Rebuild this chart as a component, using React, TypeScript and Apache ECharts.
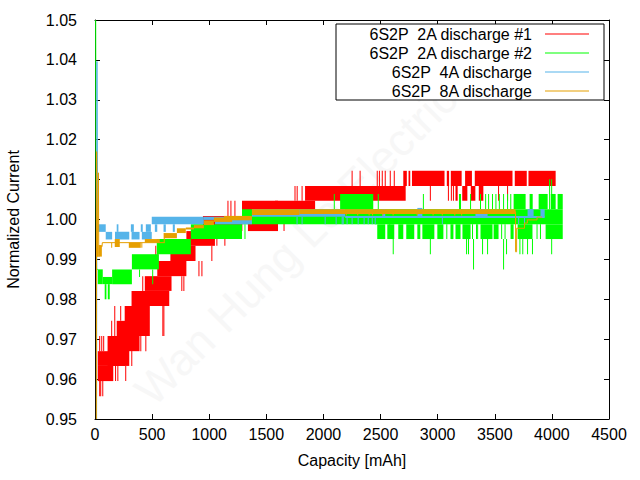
import React, { useEffect, useRef } from 'react';
import * as echarts from 'echarts';

const seriesNames = [
  '6S2P  2A discharge #1',
  '6S2P  2A discharge #2',
  '6S2P  4A discharge',
  '6S2P  8A discharge',
];
const seriesColors = ['#ff0000', '#00ff00', '#56b4e9', '#e69f00'];

const xMin = 0;
const xMax = 4500;
const xStep = 500;
const yMin = 0.95;
const yMax = 1.05;
const yStep = 0.01;

// the sampled current toggles between two quantised levels, so each trace is
// kept as blocks [x0, x1, low, high] plus single spikes [x, low, high]
const redBands = [
  [24, 262, 0.9633, 0.967],
  [24, 160, 0.9595, 0.9633],
  [110, 300, 0.9633, 0.9708],
  [190, 390, 0.967, 0.9746],
  [260, 480, 0.9708, 0.9783],
  [320, 650, 0.9783, 0.9821],
  [436, 670, 0.9821, 0.9858],
  [550, 800, 0.9858, 0.9896],
  [660, 880, 0.9896, 0.9934],
  [800, 1050, 0.9934, 0.9971],
  [945, 1290, 0.9971, 1.0009],
  [1287, 1602, 1.0009, 1.0047],
  [1339, 1602, 0.9971, 1.0009],
  [1576, 1927, 1.0009, 1.0047],
  [1839, 2720, 1.0047, 1.0084],
  [3156, 3175, 1.0047, 1.0084],
  [3215, 3260, 1.0047, 1.0084],
  [3290, 3330, 1.0047, 1.0084],
  [3360, 3400, 1.0047, 1.0084],
  [2699, 2730, 1.0084, 1.0122],
  [2745, 2760, 1.0084, 1.0122],
  [2775, 3060, 1.0084, 1.0122],
  [3080, 3100, 1.0084, 1.0122],
  [3115, 3210, 1.0084, 1.0122],
  [3240, 3300, 1.0084, 1.0122],
  [3325, 3655, 1.0084, 1.0122],
  [3675, 3780, 1.0084, 1.0122],
  [3795, 4033, 1.0084, 1.0122],
];
const redSpikes = [
  [41, 0.9557, 0.9595], [50, 0.9557, 0.9595], [68, 0.9557, 0.9595],
  [41, 0.967, 0.9708], [59, 0.967, 0.9708], [76, 0.967, 0.9708],
  [146, 0.9708, 0.9746], [173, 0.9708, 0.9783], [225, 0.9746, 0.9783],
  [180, 0.9595, 0.9633], [200, 0.9595, 0.9633], [269, 0.9595, 0.9633],
  [322, 0.9633, 0.9708], [401, 0.967, 0.9708], [445, 0.967, 0.9708],
  [594, 0.9708, 0.9783], [603, 0.9708, 0.9783],
  [418, 0.9821, 0.9858], [532, 0.9896, 0.9934], [550, 0.9858, 0.9934],
  [760, 0.9821, 0.9858], [778, 0.9821, 0.9858],
  [910, 0.9858, 0.9896], [936, 0.9858, 0.9896],
  [1023, 0.9896, 0.9934], [1067, 0.9934, 0.9971], [1137, 0.9934, 0.9971],
  [1164, 1.0009, 1.0047], [1190, 1.0009, 1.0047], [1225, 1.0009, 1.0047],
  [1655, 0.9971, 1.0009],
  [1751, 1.0047, 1.0084], [1770, 1.0047, 1.0084], [1813, 1.0047, 1.0084],
  [2251, 1.0084, 1.0122], [2321, 1.0084, 1.0122], [2471, 1.0084, 1.0122],
  [2490, 1.0084, 1.0122], [2515, 1.0084, 1.0122], [2541, 1.0084, 1.0122],
  [2585, 1.0084, 1.0122], [2620, 1.0084, 1.0122],
  [2936, 1.0047, 1.0084], [3094, 1.0047, 1.0084], [3120, 1.0047, 1.0084],
  [3138, 1.0047, 1.0084], [3533, 1.0047, 1.0084], [3612, 1.0047, 1.0084],
];

const greenLine = [
  [6, 1.05], [8, 1.0174], [14, 0.9875], [24, 0.9875],
];
const greenBands = [
  [24, 68, 0.9838, 0.9875],
  [68, 150, 0.9838, 0.9856],
  [150, 323, 0.9838, 0.9875],
  [85, 100, 0.98, 0.9838],
  [112, 129, 0.98, 0.9838],
  [323, 559, 0.9875, 0.9913],
  [541, 839, 0.9913, 0.9951],
  [839, 1287, 0.9951, 0.9988],
  [1287, 2470, 0.9988, 1.0026],
  [2146, 2436, 1.0026, 1.0064],
  [2453, 4095, 0.9988, 1.0026],
  [2471, 2541, 0.9951, 0.9988], [2559, 2620, 0.9951, 0.9988],
  [2655, 2699, 0.9951, 0.9988], [2725, 2795, 0.9951, 0.9988],
  [2822, 2848, 0.9951, 0.9988], [2866, 2971, 0.9951, 0.9988],
  [2997, 3050, 0.9951, 0.9988], [3112, 3138, 0.9951, 0.9988],
  [3156, 3200, 0.9951, 0.9988], [3217, 3288, 0.9951, 0.9988],
  [3375, 3480, 0.9951, 0.9988], [3490, 3533, 0.9951, 0.9988],
  [3638, 3665, 0.9951, 0.9988], [3700, 3830, 0.9951, 0.9988],
  [3945, 4095, 0.9951, 0.9988],
  [3665, 3770, 1.0026, 1.0064], [3805, 3832, 1.0026, 1.0064],
  [3884, 3963, 1.0026, 1.0064], [3990, 4033, 1.0026, 1.0064],
  [4050, 4095, 1.0026, 1.0064],
];
const greenSpikes = [
  [1313, 0.9951, 0.9988], [390, 0.9856, 0.9875], [505, 0.9838, 0.9875],
  [2611, 0.9913, 0.9951], [2936, 0.9913, 0.9951], [3253, 0.9913, 0.9951],
  [3270, 0.9913, 0.9951], [3314, 0.9875, 0.9951], [3393, 0.9913, 0.9951],
  [3437, 0.9913, 0.9951], [3577, 0.9875, 0.9951], [3603, 0.9913, 0.9951],
  [3720, 0.9913, 0.9951], [3745, 0.9913, 0.9951], [3787, 0.9913, 0.9951],
  [3830, 0.9913, 0.9951], [3998, 0.9913, 0.9951],
  [2580, 0.9951, 0.9988], [3080, 0.9951, 0.9988], [3305, 0.9951, 0.9988],
  [3340, 0.9951, 0.9988], [3350, 0.9951, 0.9988], [3560, 0.9951, 0.9988],
  [3590, 0.9951, 0.9988], [3870, 0.9951, 0.9988], [3900, 0.9951, 0.9988],
  [2095, 1.0026, 1.0064], [2480, 1.0026, 1.0064], [2875, 1.0026, 1.0064],
  [3191, 1.0026, 1.0064], [3200, 1.0026, 1.0064], [3288, 1.0026, 1.0064],
  [3375, 1.0026, 1.0064], [3420, 1.0026, 1.0064], [3446, 1.0026, 1.0064],
  [3480, 1.0026, 1.0064], [3510, 1.0026, 1.0064], [3540, 1.0026, 1.0064],
  [3577, 1.0026, 1.0064], [3612, 1.0026, 1.0064], [3640, 1.0026, 1.0064],
  [3980, 1.0026, 1.0101], [3998, 1.0026, 1.0101],
];

const blueLine = [
  [14, 0.95], [17, 1.0396], [20, 1.0396], [24, 0.9988],
];
const blueBands = [
  [24, 94, 0.9969, 0.9988],
  [94, 150, 0.995, 0.9969], [175, 300, 0.995, 0.9969],
  [320, 390, 0.995, 0.9969], [410, 497, 0.995, 0.9969],
  [190, 205, 0.9969, 0.9988], [314, 340, 0.9969, 0.9988],
  [401, 418, 0.9969, 0.9988], [445, 489, 0.9969, 0.9988],
  [497, 953, 0.9988, 1.0007],
  [524, 545, 0.9969, 0.9988], [600, 620, 0.9969, 0.9988], [681, 699, 0.9969, 0.9988],
  [953, 1050, 0.9999, 1.0007],
  [1050, 1374, 0.9988, 1.0007],
  [1374, 2190, 1.0007, 1.0026],
  [2190, 3937, 1.0004, 1.0009],
  [2515, 2541, 1.0007, 1.0026], [2822, 2866, 1.0007, 1.0029],
  [3331, 3437, 1.0007, 1.0026], [3787, 3840, 1.0007, 1.0026],
  [3900, 3937, 1.0007, 1.0026],
];
const blueSpikes = [
  [1769, 0.9988, 1.0007], [1813, 0.9988, 1.0007], [2015, 0.9988, 1.0007],
  [2111, 0.9988, 1.0007], [2164, 0.9988, 1.0007], [2173, 0.9988, 1.0007],
  [2207, 0.9988, 1.0007], [2251, 0.9988, 1.0007], [2304, 0.9988, 1.0007],
  [2356, 0.9988, 1.0007], [2392, 0.9988, 1.0007], [2427, 0.9988, 1.0007],
  [2453, 0.9988, 1.0007], [3041, 0.9988, 1.0007], [3709, 0.9988, 1.0007],
  [3760, 0.9988, 1.0007],
];

const orangeLine = [
  [12, 0.95], [14, 1.017], [20, 1.017], [22, 0.9907], [28, 0.9907],
  [30, 1.0117], [33, 0.9907], [38, 0.9936], [45, 0.9932], [62, 0.9932],
  [64, 0.9942], [610, 0.9942],
];
const orangeTail = [
  [3682, 0.9919], [3691, 0.9919], [3691, 0.9978], [3760, 0.9978],
  [3760, 0.9991], [3785, 0.9991], [3785, 0.9999], [3870, 0.9999],
  [3870, 1.0006], [3915, 1.0006],
];
const orangeBands = [
  [33, 60, 0.9907, 0.9936],
  [173, 217, 0.9931, 0.9951],
  [296, 401, 0.9929, 0.9942],
  [436, 567, 0.9942, 0.9951],
  [603, 717, 0.9953, 0.9966],
  [606, 614, 0.9942, 0.9966],
  [717, 795, 0.9966, 0.9978],
  [795, 866, 0.9975, 0.998],
  [866, 953, 0.9978, 0.9986],
  [953, 1041, 0.9986, 0.9998],
  [1041, 1200, 0.9994, 1.0005],
  [1129, 1374, 0.9998, 1.0009],
  [1374, 1790, 1.0011, 1.0026],
  [1790, 3682, 1.0014, 1.0026],
];
const orangeSpikes = [
  [146, 0.9929, 0.9942], [410, 0.9929, 0.9942], [3682, 0.9919, 1.002],
  [2200, 1.001, 1.0014], [2300, 1.001, 1.0014], [2400, 1.001, 1.0014],
  [2430, 1.001, 1.0014], [2520, 1.001, 1.0014], [2610, 1.001, 1.0014],
  [2820, 1.001, 1.0014], [2960, 1.001, 1.0014], [3040, 1.001, 1.0014],
  [3150, 1.001, 1.0014], [3210, 1.001, 1.0014],
];

const font = 'Liberation Sans, Arial, sans-serif';

const toBoxes = (bands: number[][], spikes: number[][]) =>
  bands.concat(spikes.map(([x, lo, hi]) => [x, x, lo, hi]));

const renderBox = (color: string) => (_params: any, api: any) => {
  const a = api.coord([api.value(0), api.value(3)]);
  const b = api.coord([api.value(1), api.value(2)]);
  const w = b[0] - a[0];
  return {
    type: 'rect',
    shape: {
      x: w < 1 ? a[0] - 0.5 : a[0],
      y: a[1],
      width: Math.max(w, 1),
      height: Math.max(b[1] - a[1], 1),
    },
    style: { fill: color },
  };
};

const boxSeries = (i: number, bands: number[][], spikes: number[][]) => ({
  type: 'custom',
  name: seriesNames[i],
  renderItem: renderBox(seriesColors[i]),
  itemStyle: { color: seriesColors[i] },
  dimensions: ['x0', 'x1', 'lo', 'hi'],
  encode: { x: [0, 1], y: [2, 3] },
  data: toBoxes(bands, spikes),
  clip: true,
  silent: true,
});

const lineSeries = (i: number, pts: number[][]) => ({
  type: 'line',
  name: seriesNames[i],
  data: pts,
  showSymbol: false,
  color: seriesColors[i],
  lineStyle: { color: seriesColors[i], width: 1 },
  clip: true,
  silent: true,
});

const axisCommon = {
  axisLine: { show: true, onZero: false, lineStyle: { color: '#000', width: 1 } },
  axisTick: { show: true, inside: true, length: 5, lineStyle: { color: '#000' } },
  splitLine: { show: false },
};

export default function App() {
  const chartRef = useRef<HTMLDivElement>(null);

  useEffect(() => {
    if (!chartRef.current) return;
    const chart = echarts.init(chartRef.current, null, { renderer: 'svg' });

    const option: any = {
      animation: false,
      backgroundColor: '#fff',
      textStyle: { fontFamily: font },
      grid: { left: 95, right: 31, top: 20, bottom: 61, outerBoundsMode: 'none' },
      graphic: [
        {
          type: 'text',
          x: 296,
          y: 244,
          rotation: Math.PI / 4,
          z: 0,
          silent: true,
          style: {
            text: 'Wan Hung Lo Electric',
            fill: '#f7f7f7',
            font: `45px ${font}`,
            align: 'center',
            verticalAlign: 'middle',
          },
        },
      ],
      legend: {
        data: seriesNames.map((name) => ({ name, icon: 'rect' })),
        orient: 'vertical',
        left: 336,
        top: 24,
        align: 'right',
        itemWidth: 44,
        itemHeight: 1,
        itemGap: 3,
        padding: [2, 15, 1, 8],
        borderColor: '#000',
        borderWidth: 1,
        borderRadius: 0,
        backgroundColor: '#fff',
        selectedMode: false,
        textStyle: {
          fontFamily: font,
          fontSize: 16,
          color: '#000',
          width: 188,
          align: 'right',
          lineHeight: 16,
          padding: [0, 8, 0, 0],
        },
      },
      xAxis: [
        {
          type: 'value',
          min: xMin,
          max: xMax,
          interval: xStep,
          position: 'bottom',
          ...axisCommon,
          axisLabel: {
            margin: 7,
            fontSize: 16,
            color: '#000',
            fontFamily: font,
            formatter: (v: number) => String(v),
          },
          name: 'Capacity [mAh]',
          nameLocation: 'middle',
          nameGap: 33,
          nameTextStyle: { fontSize: 16, color: '#000', fontFamily: font },
        },
        {
          type: 'value',
          min: xMin,
          max: xMax,
          interval: xStep,
          position: 'top',
          ...axisCommon,
          axisLabel: { show: false },
        },
      ],
      yAxis: [
        {
          type: 'value',
          min: yMin,
          max: yMax,
          interval: yStep,
          position: 'left',
          ...axisCommon,
          axisLabel: {
            margin: 18,
            fontSize: 16,
            color: '#000',
            fontFamily: font,
            formatter: (v: number) => v.toFixed(2),
          },
          name: 'Normalized Current',
          nameLocation: 'middle',
          nameGap: 74,
          nameTextStyle: { fontSize: 16, color: '#000', fontFamily: font },
        },
        {
          type: 'value',
          min: yMin,
          max: yMax,
          interval: yStep,
          position: 'right',
          ...axisCommon,
          axisLabel: { show: false },
        },
      ],
      series: [
        boxSeries(0, redBands, redSpikes),
        boxSeries(1, greenBands, greenSpikes),
        lineSeries(1, greenLine),
        boxSeries(2, blueBands, blueSpikes),
        lineSeries(2, blueLine),
        boxSeries(3, orangeBands, orangeSpikes),
        lineSeries(3, orangeLine),
        lineSeries(3, orangeTail),
      ],
    };

    chart.setOption(option);
    return () => chart.dispose();
  }, []);

  return (
    <div
      ref={chartRef}
      style={{ position: 'fixed', left: 0, top: 0, width: 640, height: 480, background: '#fff' }}
    />
  );
}
